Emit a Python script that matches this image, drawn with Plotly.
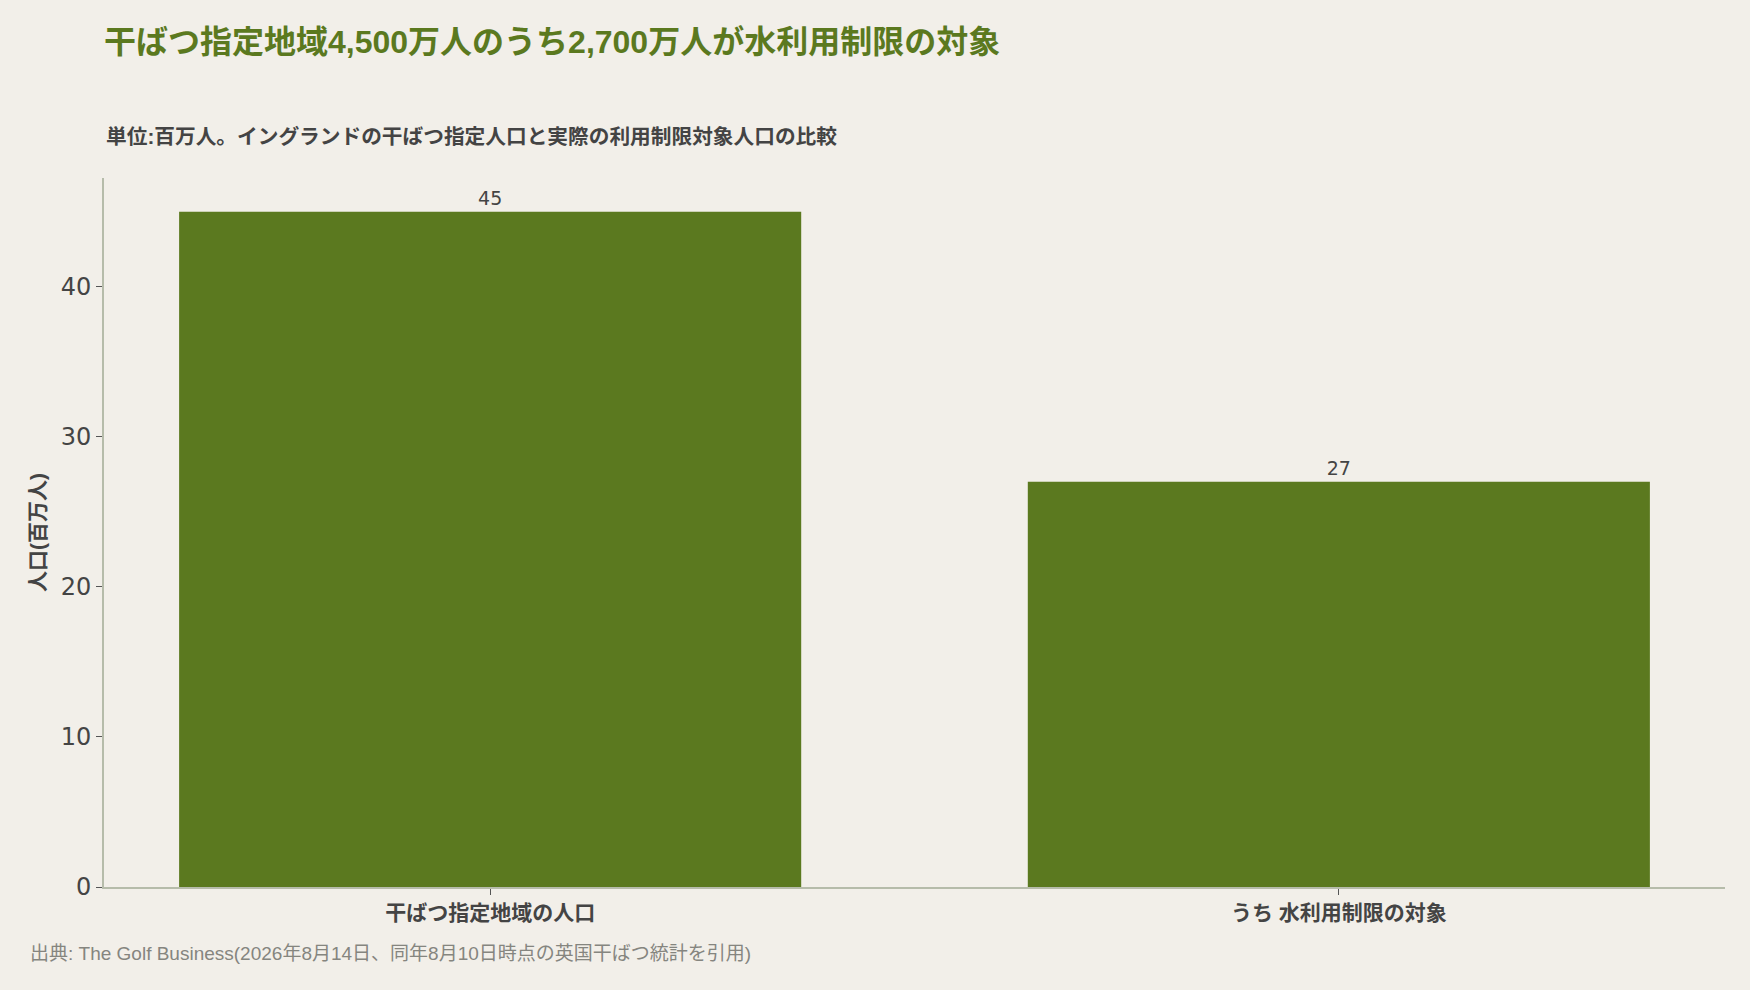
import plotly.graph_objects as go

CATEGORIES = ["干ばつ指定地域の人口", "うち 水利用制限の対象"]
POPULATION_MILLIONS = [45, 27]
VALUE_LABELS = ["45", "27"]

TITLE = "干ばつ指定地域4,500万人のうち2,700万人が水利用制限の対象"
SUBTITLE = "単位:百万人。イングランドの干ばつ指定人口と実際の利用制限対象人口の比較"
SOURCE = "出典: The Golf Business(2026年8月14日、同年8月10日時点の英国干ばつ統計を引用)"
Y_TITLE = "人口(百万人)"

BG = "#f2efe9"
GREEN = "#5b791f"
AXIS_LINE = "#b6bcaa"
TEXT_DARK = "#444444"
TEXT_MUTED = "#85857f"
FONT = "Liberation Sans, Noto Sans CJK JP, sans-serif"
NUM_FONT = "DejaVu Sans, sans-serif"

fig = go.Figure()
fig.add_trace(
    go.Bar(
        x=CATEGORIES,
        y=POPULATION_MILLIONS,
        text=VALUE_LABELS,
        textposition="outside",
        textfont=dict(family=NUM_FONT, size=19, color=TEXT_DARK),
        marker=dict(color=GREEN, line=dict(width=0)),
        cliponaxis=False,
        hovertemplate="%{x}: %{y}<extra></extra>",
    )
)

fig.update_layout(
    width=1750,
    height=990,
    paper_bgcolor=BG,
    plot_bgcolor=BG,
    showlegend=False,
    bargap=0.267,
    margin=dict(l=104, r=25, t=178, b=103),
    font=dict(family=FONT, color=TEXT_DARK),
    title=dict(
        text=f"<b>{TITLE}</b>",
        font=dict(family=FONT, size=32, color=GREEN),
        x=104 / 1750,
        xanchor="left",
        xref="container",
        y=1 - 42 / 990,
        yanchor="middle",
        yref="container",
    ),
    annotations=[
        dict(
            text=f"<b>{SUBTITLE}</b>",
            xref="paper", yref="paper",
            x=0, y=1 + (178 - 136) / 709,
            xanchor="left", yanchor="middle",
            showarrow=False,
            font=dict(family=FONT, size=20.7, color=TEXT_DARK),
        ),
        dict(
            text=SOURCE,
            xref="paper", yref="paper",
            x=-(104 - 28) / 1621, y=-(953 - 887) / 709,
            xanchor="left", yanchor="middle",
            showarrow=False,
            font=dict(family=FONT, size=19, color=TEXT_MUTED),
        ),
    ],
)

fig.update_xaxes(
    range=[-0.455, 1.455],
    showline=True,
    linecolor=AXIS_LINE,
    linewidth=2,
    ticks="outside",
    ticklen=6,
    tickcolor="#555555",
    tickfont=dict(family=FONT, size=21, color=TEXT_DARK, weight="bold"),
    showgrid=False,
    zeroline=False,
)
fig.update_yaxes(
    range=[0, 47.25],
    showline=True,
    linecolor=AXIS_LINE,
    linewidth=2,
    ticks="outside",
    ticklen=6,
    tickcolor="#555555",
    tickvals=[0, 10, 20, 30, 40],
    tickfont=dict(family=NUM_FONT, size=24, color=TEXT_DARK),
    showgrid=False,
    zeroline=False,
    title=dict(
        text=f"<b>{Y_TITLE}</b>",
        font=dict(family=FONT, size=21, color=TEXT_DARK),
        standoff=9,
    ),
)

fig.write_html(
    "out.html",
    config={"displayModeBar": False},
    post_script="document.body.style.margin='0';",
)
